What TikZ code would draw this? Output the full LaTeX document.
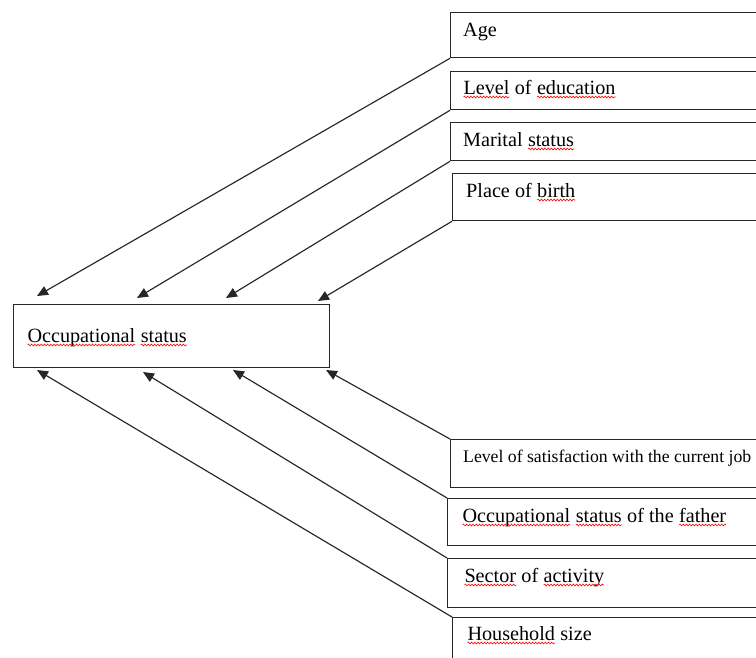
\documentclass[tikz,border=0pt]{standalone}
\usepackage{fontspec}
\setmainfont{Liberation Serif}
\usetikzlibrary{arrows.meta,decorations.pathmorphing}
% red wavy mark under words
\newcommand{\spellmark}[1]{\tikz[baseline=(w.base)]{\node[inner sep=0pt,outer sep=0pt] (w) {#1};
    \draw[red,line width=0.6pt,decorate,decoration={snake,amplitude=0.9pt,segment length=3.2pt}] ([yshift=-3pt]w.base west) -- ([yshift=-3pt]w.base east);}}

\begin{document}
\begin{tikzpicture}[x=1pt,y=-1pt,
    factor/.style={draw=black!85,line width=1.3pt,minimum width=400pt,minimum height=#1,anchor=north west,inner sep=0pt},
    txt/.style={anchor=base west,inner sep=0pt,font=\fontsize{20.2}{24}\selectfont},
    link/.style={draw=black!85,line width=1.15pt,-{Triangle[length=11pt,width=9.5pt]}}]
    \useasboundingbox (0,0) rectangle (756,657);
    \clip (0,0) rectangle (756,657);

    % boxes
    \node[factor=45pt] (age) at (450,12) {};
    \node[factor=38pt] (edu) at (450,71) {};
    \node[factor=38pt] (mar) at (450,122) {};
    \node[factor=47pt] (pob) at (452,173) {};
    \node[factor=63pt,minimum width=316pt] (occ) at (13,304) {};
    \node[factor=48pt] (sat) at (450,439) {};
    \node[factor=47pt] (fat) at (447,498) {};
    \node[factor=49pt] (sec) at (447,558) {};
    \node[factor=60pt] (hhs) at (452,617) {};

    % texts
    \node[txt] (agetxt) at (463,36) {Age};
    \node[txt] (edutxt) at (463,94) {\spellmark{Level} of \spellmark{education}};
    \node[txt] (martxt) at (463,146) {Marital \spellmark{status}};
    \node[txt] (pobtxt) at (466,197) {Place of \spellmark{birth}};
    \node[txt] (occtxt) at (27,342) {\spellmark{Occupational} \spellmark{status}};
    \node[txt,font=\fontsize{17.7}{21}\selectfont] (sattxt) at (463,462) {Level of satisfaction with the current job};
    \node[txt] (fattxt) at (462,522) {\spellmark{Occupational} \spellmark{status} of the \spellmark{father}};
    \node[txt] (sectxt) at (464,582) {\spellmark{Sector} of \spellmark{activity}};
    \node[txt] (hhstxt) at (467,640) {\spellmark{Household} size};

    % arrow ends on the central box
    \coordinate (t1) at (37,296);
    \coordinate (t2) at (137,298);
    \coordinate (t3) at (226,298);
    \coordinate (t4) at (318,301);
    \coordinate (b1) at (326,370);
    \coordinate (b2) at (233,370);
    \coordinate (b3) at (143,372);
    \coordinate (b4) at (37,370);

    \draw[link] (age.south west) -- (t1);
    \draw[link] (edu.south west) -- (t2);
    \draw[link] (mar.south west) -- (t3);
    \draw[link] (pob.south west) -- (t4);
    \draw[link] (sat.north west) -- (b1);
    \draw[link] (fat.north west) -- (b2);
    \draw[link] (sec.north west) -- (b3);
    \draw[link] (hhs.north west) -- (b4);
\end{tikzpicture}
\end{document}
